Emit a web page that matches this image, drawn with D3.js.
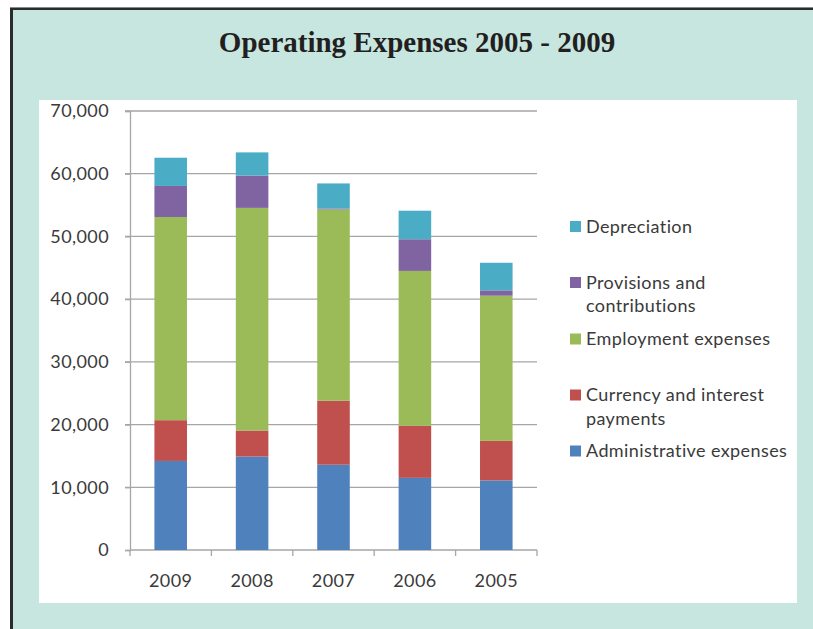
<!DOCTYPE html>
<html>
<head>
<meta charset="utf-8">
<script src="https://cdn.jsdelivr.net/npm/d3@7"></script>
<style>
  html, body { margin: 0; padding: 0; background: #ffffff; }
  svg { display: block; }
</style>
</head>
<body>
<svg id="chart" width="813" height="629"></svg>
<script>
// Operating expenses per year, stacked by category
const years = ["2009", "2008", "2007", "2006", "2005"];
const seriesNames = [
  "Administrative expenses",
  "Currency and interest payments",
  "Employment expenses",
  "Provisions and contributions",
  "Depreciation"
];
const administrative = [14200, 14900, 13600, 11500, 11100];
const currencyInterest = [6500, 4150, 10200, 8300, 6300];
const employment = [32400, 35500, 30500, 24700, 23150];
const provisions = [4950, 5150, 150, 5050, 850];
const depreciation = [4500, 3700, 4000, 4550, 4400];
const yTicks = [0, 10000, 20000, 30000, 40000, 50000, 60000, 70000];

const colors = ["#4F81BD", "#C0504D", "#9BBB59", "#8064A2", "#4BACC6"];
const legendLines = [
  ["Depreciation"],
  ["Provisions and", "contributions"],
  ["Employment expenses"],
  ["Currency and interest", "payments"],
  ["Administrative expenses"]
];

const svg = d3.select("#chart");
const font = "Lato, 'Open Sans', sans-serif";
const fontSize = 18;
const spacing = "0.4px";
const textColor = "#3a3a3a";

// Page frame
svg.append("rect").attr("x", 0).attr("y", 0).attr("width", 813).attr("height", 629).attr("fill", "#ffffff");
svg.append("rect").attr("x", 13).attr("y", 10).attr("width", 800).attr("height", 619).attr("fill", "#C8E6E0");
svg.append("rect").attr("x", 10).attr("y", 8).attr("width", 803).attr("height", 2).attr("fill", "#2b2b2b");
svg.append("rect").attr("x", 10).attr("y", 7).attr("width", 803).attr("height", 1).attr("fill", "#8a8a8a");
svg.append("rect").attr("x", 10).attr("y", 8).attr("width", 3).attr("height", 621).attr("fill", "#2b2b2b");

svg.append("text")
  .attr("x", 417).attr("y", 52)
  .attr("text-anchor", "middle")
  .attr("font-family", "'Liberation Serif', 'Times New Roman', serif")
  .attr("font-weight", "bold")
  .attr("font-size", 29)
  .attr("fill", "#231F20")
  .text("Operating Expenses 2005 - 2009");

// White chart panel
svg.append("rect").attr("x", 39).attr("y", 100).attr("width", 758).attr("height", 503).attr("fill", "#ffffff");

// Scales
const x = d3.scaleBand().domain(years).range([130, 537]).paddingInner(0.6).paddingOuter(0.3);
const y = d3.scaleLinear().domain([0, 70000]).range([550, 111]);

// Gridlines
svg.append("g")
  .selectAll("line")
  .data(yTicks.filter(d => d > 0))
  .join("line")
  .attr("x1", 125).attr("x2", 537)
  .attr("y1", d => y(d)).attr("y2", d => y(d))
  .attr("stroke", "#A6A6A6").attr("stroke-width", 1.3);

// Y axis
const yAxis = svg.append("g")
  .attr("transform", "translate(130,0)")
  .call(d3.axisLeft(y).tickValues(yTicks).tickSize(5).tickPadding(16)
    .tickFormat(d3.format(",")));
yAxis.select(".domain").attr("stroke", "#A6A6A6").attr("stroke-width", 1.3);
yAxis.selectAll(".tick line").attr("stroke", "#A6A6A6").attr("stroke-width", 1.3);
yAxis.selectAll("text")
  .attr("font-family", font).attr("font-size", fontSize)
  .attr("letter-spacing", spacing).attr("fill", textColor);

// X axis with ticks at category boundaries
const xAxisG = svg.append("g").attr("transform", "translate(0,550)");
xAxisG.append("line").attr("x1", 130).attr("x2", 537).attr("y1", 0).attr("y2", 0)
  .attr("stroke", "#A6A6A6").attr("stroke-width", 1.3);
const step = x.step();
const boundaries = d3.range(years.length + 1).map(i => 130 + i * step);
xAxisG.selectAll("line.tk").data(boundaries).join("line")
  .attr("class", "tk")
  .attr("x1", d => d).attr("x2", d => d).attr("y1", 0).attr("y2", 6)
  .attr("stroke", "#A6A6A6").attr("stroke-width", 1.3);
xAxisG.selectAll("text").data(years).join("text")
  .attr("x", d => x(d) + x.bandwidth() / 2)
  .attr("y", 37)
  .attr("text-anchor", "middle")
  .attr("font-family", font).attr("font-size", fontSize)
  .attr("letter-spacing", spacing).attr("fill", textColor)
  .text(d => d);

// Stacked bars
const seriesValues = [administrative, currencyInterest, employment, provisions, depreciation];
const rows = years.map((yr, i) => {
  const r = { year: yr };
  seriesNames.forEach((s, k) => { r[s] = seriesValues[k][i]; });
  return r;
});
const stacked = d3.stack().keys(seriesNames)(rows);

svg.append("g")
  .selectAll("g")
  .data(stacked)
  .join("g")
  .attr("fill", (d, i) => colors[i])
  .selectAll("rect")
  .data(d => d)
  .join("rect")
  .attr("x", d => x(d.data.year))
  .attr("width", x.bandwidth())
  .attr("y", d => y(d[1]))
  .attr("height", d => y(d[0]) - y(d[1]));

// Legend
const legendY = [226.5, 282.5, 339, 395, 451];
const legendColors = colors.slice().reverse();
const lg = svg.append("g");
legendLines.forEach((lines, i) => {
  const cy = legendY[i];
  lg.append("rect")
    .attr("x", 570).attr("y", cy - 5.5).attr("width", 11).attr("height", 11)
    .attr("fill", legendColors[i]);
  lines.forEach((t, j) => {
    lg.append("text")
      .attr("x", 586).attr("y", cy + j * 23.5)
      .attr("dy", "0.35em")
      .attr("font-family", font).attr("font-size", fontSize)
      .attr("letter-spacing", spacing).attr("fill", textColor)
      .text(t);
  });
});
</script>
</body>
</html>
